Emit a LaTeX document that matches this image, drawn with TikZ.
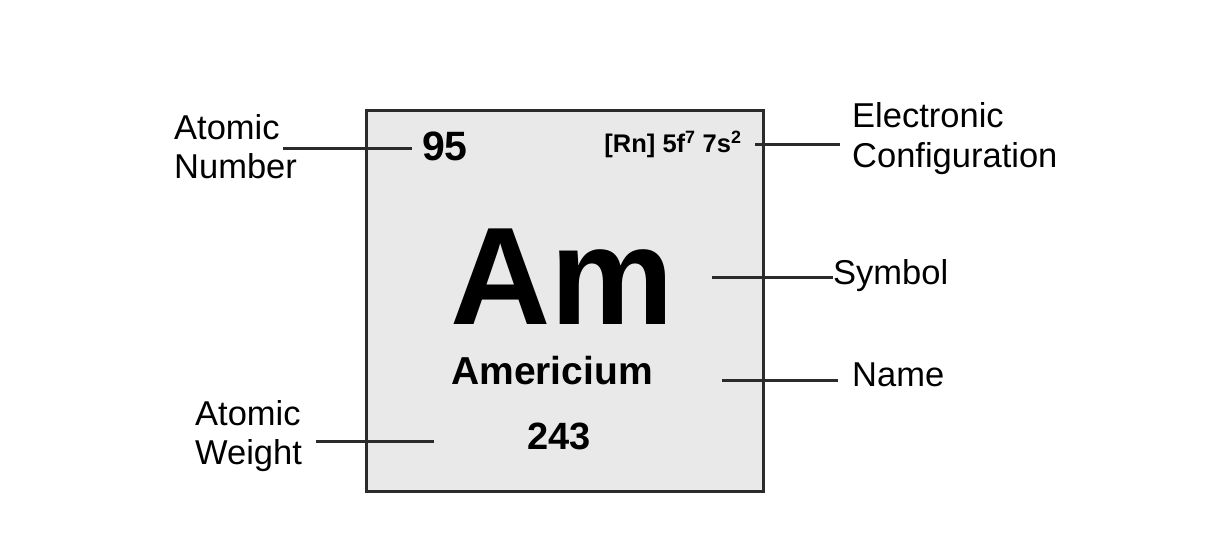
\documentclass[tikz,border=0pt]{standalone}
\usepackage{xcolor}
\usepackage{fontspec}
\setmainfont{Liberation Sans}
\usetikzlibrary{positioning,calc}
\definecolor{cellgray}{HTML}{E9E9E9}
\definecolor{linegray}{HTML}{2B2B2B}
\tikzset{
    label/.style={inner sep=0pt, anchor=west, align=left, font=\fontsize{34.5}{39}\selectfont},
    leader/.style={draw=linegray, line width=3pt}
}

\begin{document}
\begin{tikzpicture}[x=1pt, y=-1pt]
    \useasboundingbox (0,0) rectangle (1205,543);
    \node (cell) [draw=linegray, line width=3pt, fill=cellgray, minimum width=397pt, minimum height=381pt] at (565,301) {};

    \node (num) at (445,146) {\fontsize{41}{44}\selectfont\bfseries 95};
    \node (cfg) at (673,144) {\fontsize{25.5}{28}\selectfont\bfseries [Rn] 5f\textsuperscript{7} 7s\textsuperscript{2}};
    \node (sym) at (562,277) {\fontsize{139}{150}\selectfont\bfseries Am};
    \node (elname) at (552,371) {\fontsize{39}{42}\selectfont\bfseries Americium};
    \node (wt) at (559,436) {\fontsize{38}{40}\selectfont\bfseries 243};

    \node (anum) [label] at (174,147) {Atomic\\Number};
    \node (econf) [label] at (852,139) {Electronic\\[1pt]Configuration};
    \node (lsym) [label] at (833,276) {Symbol};
    \node (lname) [label] at (852,375) {Name};
    \node (awt) [label] at (195,436) {Atomic\\Weight};

    % leader ends
    \coordinate (anumpt) at (283,148);
    \coordinate (numpt) at (412,148);
    \coordinate (cfgpt) at (755,144);
    \coordinate (econfpt) at (840,144);
    \coordinate (sympt) at (712,277);
    \coordinate (namept) at (722,380);
    \coordinate (lnamept) at (838,380);
    \coordinate (awtpt) at (316,441);
    \coordinate (wtpt) at (434,441);

    \draw[leader] (anumpt) -- (numpt);
    \draw[leader] (cfgpt) -- (econfpt);
    \draw[leader] (sympt) -- (sympt -| lsym.west);
    \draw[leader] (namept) -- (lnamept);
    \draw[leader] (awtpt) -- (wtpt);
\end{tikzpicture}
\end{document}
